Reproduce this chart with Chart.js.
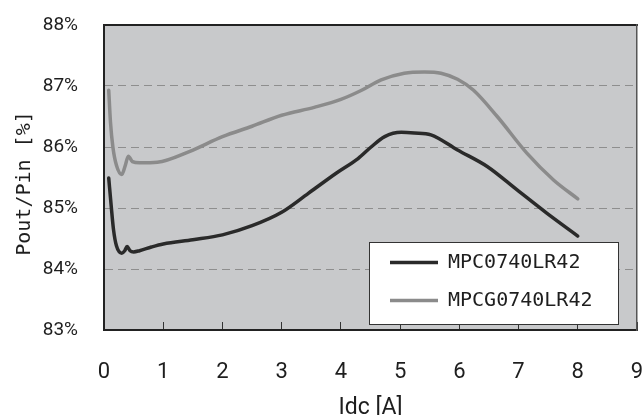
<!DOCTYPE html>
<html>
<head>
<meta charset="utf-8">
<script src="https://cdn.jsdelivr.net/npm/chart.js@4.4.1/dist/chart.umd.min.js"></script>
<style>
  html, body { margin: 0; padding: 0; background: #fff; }
  canvas { display: block; }
</style>
</head>
<body>
<canvas id="efficiency" width="642" height="415"></canvas>
<script>
// Eficiencia Pout/Pin frente a la corriente de salida Idc
const seriesNames = ['MPC0740LR42', 'MPCG0740LR42'];

const mpcCurrent = [0.08, 0.12, 0.16, 0.21, 0.3, 0.35, 0.39, 0.44, 0.5, 0.6, 0.8, 1.0, 1.5, 2.0, 2.5, 3.0, 3.45, 3.92, 4.29, 4.51, 4.74, 5.02, 5.24, 5.52, 5.97, 6.47, 6.97, 7.47, 8.0];
const mpcEfficiency = [85.49, 85.05, 84.65, 84.38, 84.26, 84.3, 84.37, 84.3, 84.28, 84.3, 84.36, 84.41, 84.48, 84.56, 84.71, 84.93, 85.24, 85.57, 85.81, 86.0, 86.17, 86.24, 86.23, 86.2, 85.95, 85.68, 85.3, 84.92, 84.54];

const mpcgCurrent = [0.08, 0.11, 0.15, 0.21, 0.3, 0.36, 0.41, 0.48, 0.6, 0.9, 1.45, 2.0, 2.5, 3.0, 3.55, 4.0, 4.35, 4.68, 5.07, 5.41, 5.69, 5.97, 6.24, 6.64, 7.14, 7.59, 8.0];
const mpcgEfficiency = [86.93, 86.4, 86.0, 85.7, 85.55, 85.7, 85.85, 85.76, 85.74, 85.75, 85.93, 86.17, 86.34, 86.52, 86.65, 86.78, 86.93, 87.1, 87.21, 87.23, 87.21, 87.11, 86.93, 86.5, 85.9, 85.46, 85.15];

const xTickValues = [0, 1, 2, 3, 4, 5, 6, 7, 8, 9];
const yTickValues = [83, 84, 85, 86, 87, 88];

const labelFont = 'Roboto, "Liberation Sans", sans-serif';
const monoFont = '"DejaVu Sans Mono", "Liberation Mono", monospace';

const toPoints = (xs, ys) => xs.map((x, i) => ({ x: x, y: ys[i] }));

// fondo gris del area de trazado
const plotBackground = {
  id: 'plotBackground',
  beforeDraw(chart) {
    const { ctx, chartArea: a } = chart;
    ctx.save();
    ctx.fillStyle = '#c8c9cb';
    ctx.fillRect(a.left, a.top, a.right - a.left, a.bottom - a.top);
    ctx.restore();
  }
};

// leyenda dentro del grafico, abajo a la derecha, con caja blanca
const legendPanel = {
  id: 'legendPanel',
  afterLayout(chart) {
    const lg = chart.legend;
    const a = chart.chartArea;
    const boxW = 249, boxH = 82;
    lg.box = { left: a.right - 19 - boxW, top: a.bottom - 6 - boxH, w: boxW, h: boxH };
    lg.left = lg.box.left + 3;
    lg.top = lg.box.top - 7.5;
    lg.right = lg.box.left + boxW;
    lg.bottom = lg.box.top + boxH + 20;
  },
  afterDatasetsDraw(chart) {
    const lg = chart.legend;
    const b = lg.box;
    const ctx = chart.ctx;
    ctx.save();
    ctx.fillStyle = '#ffffff';
    ctx.fillRect(b.left, b.top, b.w, b.h);
    ctx.strokeStyle = '#333333';
    ctx.lineWidth = 1;
    ctx.strokeRect(Math.round(b.left) + 0.5, Math.round(b.top) + 0.5, b.w, b.h);
    ctx.restore();
    lg.draw();
  }
};

// sin margen extra por etiquetas: el area de trazado queda fija
const noLabelPadding = (scale) => {
  scale.paddingTop = 0;
  scale.paddingBottom = 0;
  scale.paddingLeft = 0;
  scale.paddingRight = 0;
};

new Chart(document.getElementById('efficiency'), {
  type: 'line',
  data: {
    datasets: [{
      label: seriesNames[0],
      data: toPoints(mpcCurrent, mpcEfficiency),
      borderColor: '#2a2a2a',
      backgroundColor: '#2a2a2a',
      borderWidth: 3.5,
      borderCapStyle: 'round',
      pointRadius: 0,
      cubicInterpolationMode: 'monotone'
    }, {
      label: seriesNames[1],
      data: toPoints(mpcgCurrent, mpcgEfficiency),
      borderColor: '#8b8b8b',
      backgroundColor: '#8b8b8b',
      borderWidth: 3.5,
      borderCapStyle: 'round',
      pointRadius: 0,
      cubicInterpolationMode: 'monotone'
    }]
  },
  options: {
    responsive: false,
    animation: false,
    devicePixelRatio: 1,
    layout: { padding: { top: 25, right: 5, left: 0, bottom: 0 } },
    plugins: {
      tooltip: { enabled: false },
      legend: {
        position: 'chartArea',
        align: 'start',
        labels: {
          usePointStyle: true,
          pointStyle: 'line',
          pointStyleWidth: 48,
          padding: 18,
          color: '#1e1e1e',
          font: { family: monoFont, size: 20 }
        }
      }
    },
    scales: {
      x: {
        type: 'linear',
        position: 'bottom',
        min: 0,
        max: 9,
        afterBuildTicks: (scale) => { scale.ticks = xTickValues.map(v => ({ value: v })); },
        afterFit: (scale) => { scale.height = 85; noLabelPadding(scale); },
        grid: {
          display: true,
          drawOnChartArea: false,
          drawTicks: true,
          tickLength: -8,
          tickColor: '#333333',
          tickWidth: 1
        },
        border: { display: true, color: '#222222', width: 2 },
        ticks: {
          padding: 37,
          color: '#1e1e1e',
          font: { family: labelFont, size: 22 },
          callback: (v) => String(v)
        },
        title: {
          display: true,
          text: 'Idc [A]',
          color: '#1e1e1e',
          padding: 0,
          font: { family: labelFont, size: 23, lineHeight: 0.6 }
        }
      },
      y: {
        type: 'linear',
        position: 'left',
        min: 83,
        max: 88,
        afterBuildTicks: (scale) => { scale.ticks = yTickValues.map(v => ({ value: v })); },
        afterFit: (scale) => { scale.width = 104; noLabelPadding(scale); },
        grid: {
          drawTicks: false,
          lineWidth: 1,
          color: (ctx) => (ctx.tick && (ctx.tick.value === 83 || ctx.tick.value === 88)) ? 'rgba(0,0,0,0)' : '#8e8e8e'
        },
        border: { display: true, color: '#222222', width: 2, dash: [8, 5] },
        ticks: {
          padding: 26,
          color: '#1e1e1e',
          font: { family: labelFont, size: 19 },
          callback: (v) => v + '%'
        },
        title: {
          display: true,
          text: 'Pout/Pin [%] ',
          color: '#1e1e1e',
          padding: { top: 13, bottom: 0 },
          font: { family: monoFont, size: 20 }
        }
      },
      // marco superior y derecho del area de trazado
      x2: {
        type: 'linear',
        position: 'top',
        min: 0,
        max: 9,
        afterFit: (scale) => { scale.height = 0; noLabelPadding(scale); },
        grid: { display: false, drawTicks: false },
        ticks: { display: false },
        border: { display: true, color: '#222222', width: 2 }
      },
      y2: {
        type: 'linear',
        position: 'right',
        min: 83,
        max: 88,
        afterFit: (scale) => { scale.width = 0; noLabelPadding(scale); },
        grid: { display: false, drawTicks: false },
        ticks: { display: false },
        border: { display: true, color: '#555555', width: 1.5 }
      }
    }
  },
  plugins: [plotBackground, legendPanel]
});
</script>
</body>
</html>
